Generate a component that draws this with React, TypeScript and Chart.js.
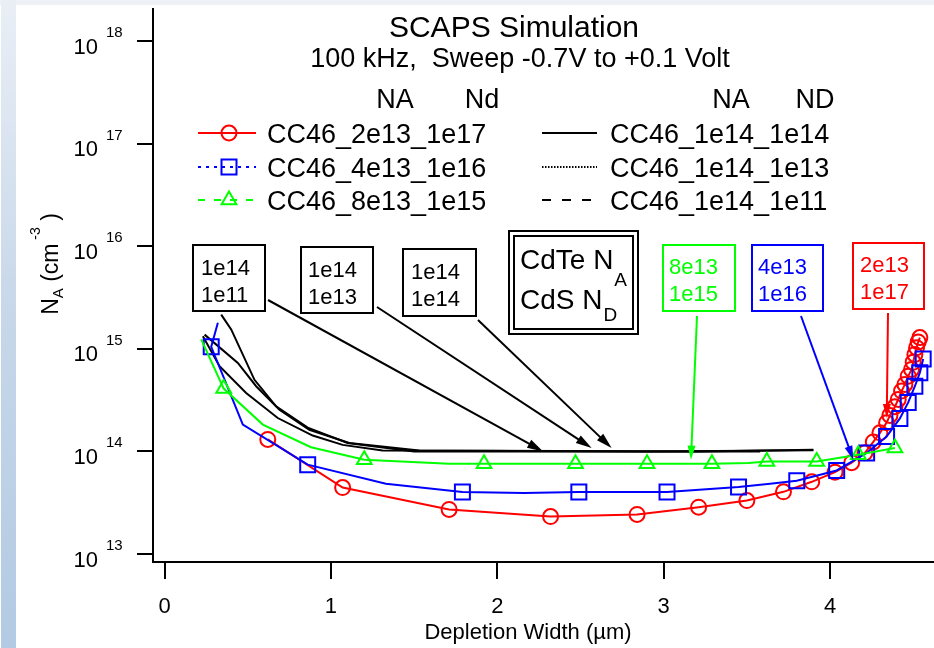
import React, { useEffect, useRef } from 'react';
import { Chart, registerables } from 'chart.js';

Chart.register(...registerables);

const FONT = '"Liberation Sans", Arial, Helvetica, sans-serif';

// ---- axis ticks ----
const xTickValues = [0, 1, 2, 3, 4];
const yExponents = [13, 14, 15, 16, 17, 18];

// ---- CC46_2e13_1e17 (red, circles) ----
const redX = [0.62, 1.07, 1.71, 2.32, 2.84, 3.21, 3.50, 3.72, 3.89, 4.03, 4.13, 4.21, 4.26, 4.30, 4.34, 4.36, 4.39, 4.41, 4.43, 4.45, 4.47, 4.49, 4.50, 4.51, 4.52, 4.53, 4.54];
const redY = [1.31e14, 4.45e13, 2.72e13, 2.32e13, 2.43e13, 2.86e13, 3.32e13, 4.04e13, 5.06e13, 6.28e13, 7.76e13, 9.7e13, 1.24e14, 1.52e14, 1.91e14, 2.25e14, 2.73e14, 3.22e14, 3.88e14, 4.51e14, 5.43e14, 6.31e14, 7.44e14, 8.85e14, 1.03e15, 1.17e15, 1.29e15];

// ---- CC46_4e13_1e16 (blue, squares) ----
const blueX = [0.32, 0.28, 0.47, 0.86, 1.33, 1.79, 2.16, 2.49, 3.02, 3.45, 3.64, 3.80, 4.04, 4.22, 4.34, 4.42, 4.47, 4.51, 4.54, 4.56];
const blueY = [1.8e15, 1.05e15, 1.83e14, 7.44e13, 4.85e13, 4.02e13, 3.94e13, 4.02e13, 4.02e13, 4.5e13, 4.85e13, 5.19e13, 6.53e13, 9.66e13, 1.4e14, 2.1e14, 3.01e14, 4.33e14, 5.85e14, 8.0e14];
const blueMarked = [1, 3, 5, 7, 8, 9, 11, 12, 13, 14, 15, 16, 17, 18, 19];

// ---- CC46_8e13_1e15 (green, triangles) ----
const greenX = [0.22, 0.355, 0.59, 0.88, 1.20, 1.71, 1.92, 2.47, 2.90, 3.29, 3.51, 3.62, 3.92, 4.17, 4.39];
const greenY = [1.24e15, 4.11e14, 1.83e14, 1.1e14, 8.32e13, 7.6e13, 7.6e13, 7.6e13, 7.6e13, 7.6e13, 7.73e13, 8.0e13, 8.0e13, 9.3e13, 1.08e14];
const greenMarked = [1, 4, 6, 7, 8, 9, 11, 12, 13, 14];

// ---- black curves ----
const b11X = [0.34, 0.40, 0.54, 0.67, 0.86, 1.10, 1.50, 3.58];
const b11Y = [2.16e15, 1.55e15, 5.0e14, 2.76e14, 1.71e14, 1.21e14, 1.0e14, 1.0e14];
const b13X = [0.24, 0.44, 0.55, 0.69, 0.87, 1.11, 1.53, 3.22, 3.90];
const b13Y = [1.38e15, 7.3e14, 4.33e14, 2.56e14, 1.63e14, 1.21e14, 1.02e14, 1.0e14, 1.04e14];
const b14X = [0.23, 0.33, 0.49, 0.68, 0.89, 1.07, 1.31, 2.92, 3.90];
const b14Y = [1.33e15, 6.78e14, 3.72e14, 2.12e14, 1.43e14, 1.16e14, 1.02e14, 1.0e14, 1.03e14];

const RED = '#ff0000';
const BLUE = '#0000ff';
const GREEN = '#00ff00';
const BLACK = '#000000';

const pts = (xs: number[], ys: number[]) => xs.map((x, i) => ({ x, y: ys[i] }));

type Ann = {
  lines: string[];
  color: string;
  box: [number, number, number, number];
  textX: number;
  baselines: [number, number];
  from: [number, number];
  tip: [number, number];
  head: number;
  half: number;
};

const annotations: Ann[] = [
  { lines: ['1e14', '1e11'], color: BLACK, box: [193, 245, 72, 66], textX: 201, baselines: [275, 302], from: [268, 300], tip: [2.275, 1e14], head: 16, half: 4.5 },
  { lines: ['1e14', '1e13'], color: BLACK, box: [301, 247, 72, 66], textX: 308, baselines: [277, 304], from: [377, 307], tip: [2.567, 1.08e14], head: 16, half: 4.5 },
  { lines: ['1e14', '1e14'], color: BLACK, box: [403, 249, 73, 67], textX: 411, baselines: [279, 306], from: [478, 320], tip: [2.687, 1.08e14], head: 16, half: 4.5 },
  { lines: ['8e13', '1e15'], color: GREEN, box: [663, 245, 72, 66], textX: 669, baselines: [274, 301], from: [697, 316], tip: [3.164, 8.32e13], head: 14, half: 4 },
  { lines: ['4e13', '1e16'], color: BLUE, box: [752, 245, 71, 66], textX: 758, baselines: [274, 301], from: [801, 316], tip: [4.14, 8.32e13], head: 14, half: 4 },
  { lines: ['2e13', '1e17'], color: RED, box: [853, 243, 71, 66], textX: 860, baselines: [272, 299], from: [888, 313], tip: [4.341, 2.12e14], head: 14, half: 4 },
];

function drawArrow(ctx: CanvasRenderingContext2D, x1: number, y1: number, x2: number, y2: number, color: string, head: number, half: number) {
  const ang = Math.atan2(y2 - y1, x2 - x1);
  const bx = x2 - head * Math.cos(ang);
  const by = y2 - head * Math.sin(ang);
  ctx.strokeStyle = color;
  ctx.lineWidth = 2;
  ctx.setLineDash([]);
  ctx.beginPath();
  ctx.moveTo(x1, y1);
  ctx.lineTo(bx + 2 * Math.cos(ang), by + 2 * Math.sin(ang));
  ctx.stroke();
  ctx.fillStyle = color;
  ctx.beginPath();
  ctx.moveTo(x2, y2);
  ctx.lineTo(bx + half * Math.sin(ang), by - half * Math.cos(ang));
  ctx.lineTo(bx - half * Math.sin(ang), by + half * Math.cos(ang));
  ctx.closePath();
  ctx.fill();
}

function marker(ctx: CanvasRenderingContext2D, style: string, x: number, y: number, color: string) {
  ctx.strokeStyle = color;
  ctx.lineWidth = 2;
  ctx.setLineDash([]);
  ctx.beginPath();
  if (style === 'circle') {
    ctx.arc(x, y, 7.5, 0, Math.PI * 2);
  } else if (style === 'rect') {
    ctx.rect(x - 7.5, y - 7.5, 15, 15);
  } else {
    const r = 8.5;
    ctx.moveTo(x, y - r);
    ctx.lineTo(x + r * 0.866, y + r * 0.5);
    ctx.lineTo(x - r * 0.866, y + r * 0.5);
    ctx.closePath();
  }
  ctx.stroke();
}

const decorPlugin = {
  id: 'decor',
  afterDraw(chart: any) {
    const ctx: CanvasRenderingContext2D = chart.ctx;
    const xs = chart.scales.x;
    const ys = chart.scales.y;
    ctx.save();
    ctx.textBaseline = 'alphabetic';

    // Title and subtitle
    ctx.fillStyle = BLACK;
    ctx.textAlign = 'center';
    ctx.font = `30px ${FONT}`;
    ctx.fillText('SCAPS Simulation', 514, 37);
    ctx.font = `27px ${FONT}`;
    ctx.fillText('100 kHz,  Sweep -0.7V to +0.1 Volt', 520, 67);

    // Legend headers
    ctx.fillText('NA', 395, 108);
    ctx.fillText('Nd', 482, 108);
    ctx.fillText('NA', 731, 108);
    ctx.fillText('ND', 815, 108);

    // Legend rows
    const rowY = [133, 167, 200];
    const leftItems = [
      { label: 'CC46_2e13_1e17', color: RED, dash: [] as number[], m: 'circle' },
      { label: 'CC46_4e13_1e16', color: BLUE, dash: [3, 5], m: 'rect' },
      { label: 'CC46_8e13_1e15', color: GREEN, dash: [7, 9], m: 'triangle' },
    ];
    const rightItems = [
      { label: 'CC46_1e14_1e14', dash: [] as number[] },
      { label: 'CC46_1e14_1e13', dash: [1.5, 1.5] },
      { label: 'CC46_1e14_1e11', dash: [9, 11] },
    ];
    ctx.textAlign = 'left';
    ctx.font = `27px ${FONT}`;
    leftItems.forEach((it, i) => {
      const y = rowY[i];
      ctx.strokeStyle = it.color;
      ctx.lineWidth = 2;
      ctx.setLineDash(it.dash);
      ctx.beginPath();
      ctx.moveTo(198, y);
      ctx.lineTo(256, y);
      ctx.stroke();
      ctx.setLineDash([]);
      marker(ctx, it.m, 229, y, it.color);
      ctx.fillStyle = BLACK;
      ctx.fillText(it.label, 267, y + 10);
    });
    rightItems.forEach((it, i) => {
      const y = rowY[i];
      ctx.strokeStyle = BLACK;
      ctx.lineWidth = 2;
      ctx.setLineDash(it.dash);
      ctx.beginPath();
      ctx.moveTo(542, y);
      ctx.lineTo(597, y);
      ctx.stroke();
      ctx.setLineDash([]);
      ctx.fillStyle = BLACK;
      ctx.fillText(it.label, 610, y + 10);
    });

    // Annotation boxes and arrows
    ctx.font = `22px ${FONT}`;
    annotations.forEach((a) => {
      ctx.strokeStyle = a.color;
      ctx.lineWidth = 2;
      ctx.setLineDash([]);
      ctx.fillStyle = '#ffffff';
      ctx.fillRect(a.box[0], a.box[1], a.box[2], a.box[3]);
      ctx.strokeRect(a.box[0], a.box[1], a.box[2], a.box[3]);
      ctx.fillStyle = a.color;
      ctx.fillText(a.lines[0], a.textX, a.baselines[0]);
      ctx.fillText(a.lines[1], a.textX, a.baselines[1]);
      const tx = xs.getPixelForValue(a.tip[0]);
      const ty = ys.getPixelForValue(a.tip[1]);
      drawArrow(ctx, a.from[0], a.from[1], tx, ty, a.color, a.head, a.half);
    });

    // Double-bordered CdTe / CdS box
    ctx.strokeStyle = BLACK;
    ctx.lineWidth = 2;
    ctx.fillStyle = '#ffffff';
    ctx.fillRect(509, 231, 129, 103);
    ctx.strokeRect(509, 231, 129, 103);
    ctx.strokeRect(514, 236, 119, 93);
    ctx.fillStyle = BLACK;
    ctx.font = `28px ${FONT}`;
    ctx.fillText('CdTe N', 520, 269);
    let w = ctx.measureText('CdTe N').width;
    ctx.font = `19px ${FONT}`;
    ctx.fillText('A', 520 + w + 1, 286);
    ctx.font = `28px ${FONT}`;
    ctx.fillText('CdS N', 520, 309);
    w = ctx.measureText('CdS N').width;
    ctx.font = `19px ${FONT}`;
    ctx.fillText('D', 520 + w + 1, 321);

    // Y tick labels 10^n
    yExponents.forEach((e) => {
      const y = ys.getPixelForValue(Math.pow(10, e));
      ctx.font = `22px ${FONT}`;
      ctx.textAlign = 'right';
      ctx.fillStyle = BLACK;
      ctx.fillText('10', 98, y + 12.5);
      ctx.font = `15px ${FONT}`;
      ctx.textAlign = 'left';
      ctx.fillText(String(e), 106, y - 4);
    });

    // X tick labels
    ctx.font = `22px ${FONT}`;
    ctx.textAlign = 'center';
    xTickValues.forEach((v) => {
      ctx.fillText(String(v), xs.getPixelForValue(v), 613);
    });

    // X axis title
    ctx.fillText('Depletion Width (\u00b5m)', 528, 639);

    // Y axis title (rotated)
    ctx.save();
    ctx.translate(58, 264);
    ctx.rotate(-Math.PI / 2);
    ctx.textAlign = 'left';
    const parts = [
      { t: 'N', size: 23, dy: 0 },
      { t: 'A', size: 15, dy: 5 },
      { t: ' (cm', size: 23, dy: 0 },
      { t: ' -3', size: 14, dy: -18 },
      { t: ' )', size: 23, dy: 0 },
    ];
    let total = 0;
    parts.forEach((p) => {
      ctx.font = `${p.size}px ${FONT}`;
      total += ctx.measureText(p.t).width;
    });
    let cx = -total / 2;
    parts.forEach((p) => {
      ctx.font = `${p.size}px ${FONT}`;
      ctx.fillText(p.t, cx, p.dy);
      cx += ctx.measureText(p.t).width;
    });
    ctx.restore();

    ctx.restore();
  },
};

export default function App() {
  const ref = useRef<HTMLCanvasElement | null>(null);

  useEffect(() => {
    if (!ref.current) return;
    const blackLine = (label: string, xsArr: number[], ysArr: number[]) => ({
      label,
      data: pts(xsArr, ysArr),
      borderColor: BLACK,
      borderWidth: 2,
      pointRadius: 0,
      showLine: true,
      tension: 0,
    });
    const chart = new Chart(ref.current, {
      type: 'scatter',
      data: {
        datasets: [
          {
            label: 'CC46_8e13_1e15',
            data: pts(greenX, greenY),
            borderColor: GREEN,
            borderWidth: 2,
            showLine: true,
            tension: 0,
            pointStyle: 'triangle',
            pointRadius: (c: any) => (greenMarked.includes(c.dataIndex) ? 8.5 : 0),
            pointBorderColor: GREEN,
            pointBackgroundColor: 'rgba(0,0,0,0)',
            pointBorderWidth: 2,
          },
          {
            label: 'CC46_4e13_1e16',
            data: pts(blueX, blueY),
            borderColor: BLUE,
            borderWidth: 2,
            showLine: true,
            tension: 0,
            pointStyle: 'rect',
            pointRadius: (c: any) => (blueMarked.includes(c.dataIndex) ? 10.6 : 0),
            pointBorderColor: BLUE,
            pointBackgroundColor: 'rgba(0,0,0,0)',
            pointBorderWidth: 2,
          },
          {
            label: 'CC46_2e13_1e17',
            data: pts(redX, redY),
            borderColor: RED,
            borderWidth: 2,
            showLine: true,
            tension: 0,
            pointStyle: 'circle',
            pointRadius: 7.5,
            pointBorderColor: RED,
            pointBackgroundColor: 'rgba(0,0,0,0)',
            pointBorderWidth: 2,
          },
          blackLine('CC46_1e14_1e14', b14X, b14Y),
          blackLine('CC46_1e14_1e13', b13X, b13Y),
          blackLine('CC46_1e14_1e11', b11X, b11Y),
        ] as any,
      },
      options: {
        responsive: false,
        animation: false,
        events: [],
        layout: { autoPadding: false, padding: { top: 9, right: 0, left: 0, bottom: 0 } },
        plugins: { legend: { display: false }, tooltip: { enabled: false }, title: { display: false } },
        scales: {
          x: {
            type: 'linear',
            min: -0.07,
            max: 4.625,
            afterBuildTicks: (s: any) => {
              s.ticks = xTickValues.map((v) => ({ value: v }));
            },
            afterFit: (s: any) => {
              s.height = 86;
            },
            ticks: { display: false },
            grid: { drawOnChartArea: false, drawTicks: true, tickLength: 17, color: BLACK, lineWidth: 2 },
            border: { display: true, color: BLACK, width: 2 },
          },
          y: {
            type: 'logarithmic',
            min: Math.pow(10, 12.922),
            max: Math.pow(10, 18.316),
            afterBuildTicks: (s: any) => {
              s.ticks = yExponents.map((e) => ({ value: Math.pow(10, e) }));
            },
            afterFit: (s: any) => {
              s.width = 153;
            },
            ticks: { display: false },
            grid: { drawOnChartArea: false, drawTicks: true, tickLength: 16, color: BLACK, lineWidth: 2 },
            border: { display: true, color: BLACK, width: 2 },
          },
        },
      } as any,
      plugins: [decorPlugin],
    });
    return () => chart.destroy();
  }, []);

  return (
    <div style={{ position: 'absolute', left: 0, top: 0, width: 934, height: 648, background: '#ffffff', overflow: 'hidden' }}>
      <div style={{ position: 'absolute', left: 0, top: 0, width: 934, height: 5, background: '#eef2f7' }} />
      <div
        style={{
          position: 'absolute',
          left: 1,
          top: 0,
          width: 15,
          height: 648,
          background: 'linear-gradient(to bottom, #eaeff6 0%, #c9d8ea 45%, #b2cae3 100%)',
        }}
      />
      <canvas ref={ref} width={934} height={648} style={{ position: 'absolute', left: 0, top: 0, width: 934, height: 648 }} />
    </div>
  );
}
